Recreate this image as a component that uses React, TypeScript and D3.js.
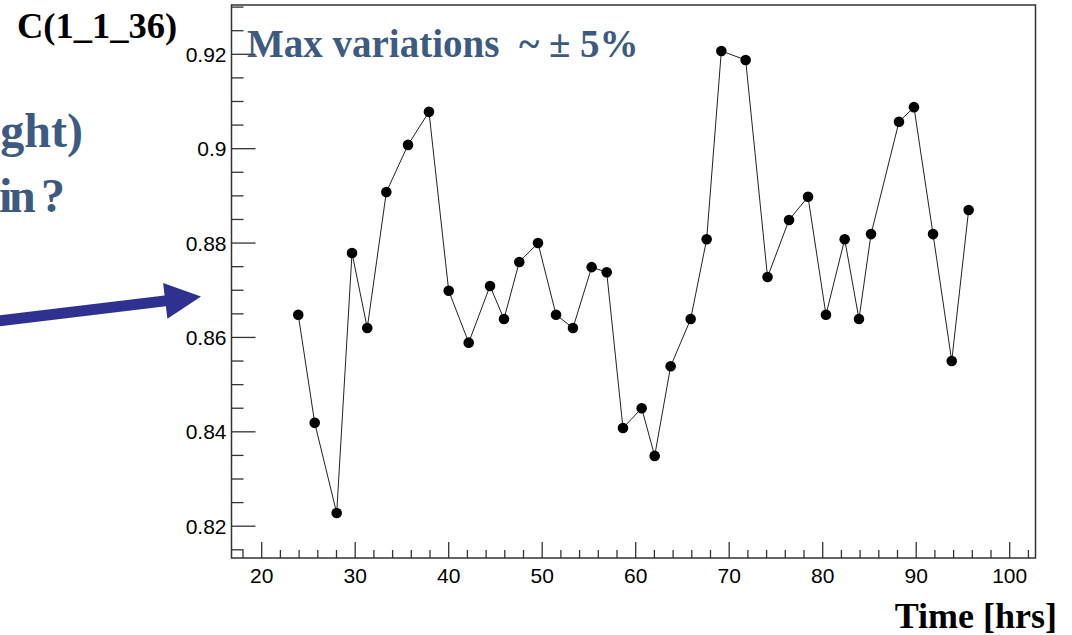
import React from "react";
import * as d3 from "d3";

const timeHrs = [23.91, 25.67, 28.02, 29.66, 31.29, 33.33, 35.65, 37.89, 40.0, 42.14, 44.42, 45.91, 47.55, 49.55, 51.48, 53.29, 55.29, 56.9, 58.64, 60.64, 62.03, 63.74, 65.88, 67.59, 69.16, 71.76, 74.1, 76.4, 78.43, 80.35, 82.35, 83.88, 85.17, 88.16, 89.76, 91.8, 93.8, 95.61];
const gainValues = [0.8648, 0.8419, 0.8228, 0.8779, 0.862, 0.8908, 0.9008, 0.9078, 0.8699, 0.8589, 0.8709, 0.8639, 0.876, 0.88, 0.8648, 0.862, 0.8749, 0.8738, 0.8408, 0.845, 0.8349, 0.8539, 0.8639, 0.8808, 0.9207, 0.9188, 0.8728, 0.8849, 0.8898, 0.8648, 0.8808, 0.8639, 0.8819, 0.9057, 0.9088, 0.8819, 0.855, 0.887];
const xMajorTicks = [20, 30, 40, 50, 60, 70, 80, 90, 100];
const yMajorTicks = [0.82, 0.84, 0.86, 0.88, 0.9, 0.92];
const yTickLabels = ["0.82", "0.84", "0.86", "0.88", "0.9", "0.92"];
const titleText = "C(1_1_36)";
const noteText = "Max variations  ~ \u00B1 5%";
const xAxisTitle = "Time [hrs]";
const sideLine1 = "ght)";
const sideLine2 = "in ?";

const W = 1072;
const H = 635;
const frame = { left: 231.5, top: 5, right: 1035.5, bottom: 558 };

export default function App() {
  const x = d3.scaleLinear().domain([20, 100]).range([261.7, 1009.7]);
  const y = d3.scaleLinear().domain([0.82, 0.92]).range([526.2, 54.3]);

  const xMinor = d3.range(18, 103, 2).filter((v) => x(v) > frame.left && x(v) < frame.right && !xMajorTicks.includes(v));
  const yMinor = d3.range(0, 24).map((i) => +(0.815 + i * 0.005).toFixed(3)).filter((v) => y(v) < frame.bottom && y(v) > frame.top && !yMajorTicks.some((m) => Math.abs(m - v) < 1e-6));

  const pts = timeHrs.map((t, i) => [t, gainValues[i]] as [number, number]);
  const line = d3.line<[number, number]>().x((d) => x(d[0])).y((d) => y(d[1]));

  // arrow geometry
  const a0: [number, number] = [-6, 321.5];
  const tip: [number, number] = [201, 296.5];
  const dx = tip[0] - a0[0];
  const dy = tip[1] - a0[1];
  const len = Math.hypot(dx, dy);
  const ux = dx / len, uy = dy / len;
  const nx = -uy, ny = ux;
  const headLen = 36, headHalf = 18, shaftHalf = 5.5;
  const bx = tip[0] - ux * headLen, by = tip[1] - uy * headLen;
  const arrowPath = [
    [a0[0] + nx * shaftHalf, a0[1] + ny * shaftHalf],
    [bx + nx * shaftHalf, by + ny * shaftHalf],
    [bx + nx * headHalf, by + ny * headHalf],
    tip,
    [bx - nx * headHalf, by - ny * headHalf],
    [bx - nx * shaftHalf, by - ny * shaftHalf],
    [a0[0] - nx * shaftHalf, a0[1] - ny * shaftHalf],
  ];
  const arrowD = "M" + arrowPath.map((p) => p[0].toFixed(1) + "," + p[1].toFixed(1)).join("L") + "Z";

  const axisColor = "#333";
  const serif = "'Liberation Serif', 'Times New Roman', serif";
  const sans = "'Liberation Sans', Arial, Helvetica, sans-serif";
  const blue = "#3d5b80";

  return (
    <svg width={W} height={H} viewBox={`0 0 ${W} ${H}`} style={{ position: "absolute", left: 0, top: 0, display: "block", background: "#fff" }}>
      {/* frame */}
      <rect x={frame.left} y={frame.top} width={frame.right - frame.left} height={frame.bottom - frame.top} fill="none" stroke={axisColor} strokeWidth={1.5} />
      {/* y ticks */}
      {yMajorTicks.map((v, i) => (
        <g key={"ym" + v}>
          <line x1={frame.left} x2={frame.left + 24} y1={y(v)} y2={y(v)} stroke={axisColor} strokeWidth={1.3} />
          <text x={frame.left - 5} y={y(v) + 7.5} textAnchor="end" fontFamily={sans} fontSize={21} fill="#000">{yTickLabels[i]}</text>
        </g>
      ))}
      {yMinor.map((v) => (
        <line key={"yn" + v} x1={frame.left} x2={frame.left + 12} y1={y(v)} y2={y(v)} stroke={axisColor} strokeWidth={1.3} />
      ))}
      {/* x ticks */}
      {xMajorTicks.map((v) => (
        <g key={"xm" + v}>
          <line x1={x(v)} x2={x(v)} y1={frame.bottom} y2={frame.bottom - 16} stroke={axisColor} strokeWidth={1.3} />
          <text x={x(v)} y={frame.bottom + 25} textAnchor="middle" fontFamily={sans} fontSize={21} fill="#000">{v}</text>
        </g>
      ))}
      {xMinor.map((v) => (
        <line key={"xn" + v} x1={x(v)} x2={x(v)} y1={frame.bottom} y2={frame.bottom - 8} stroke={axisColor} strokeWidth={1.3} />
      ))}
      {/* data */}
      <path d={line(pts) || ""} fill="none" stroke="#222" strokeWidth={1} />
      {pts.map((p, i) => (
        <circle key={"p" + i} cx={x(p[0])} cy={y(p[1])} r={5.3} fill="#000" />
      ))}
      {/* texts */}
      <text x={17} y={38} fontFamily={serif} fontWeight="bold" fontSize={36.5} fill="#000">{titleText}</text>
      <text x={247} y={57} fontFamily={serif} fontWeight="bold" fontSize={39} fill={blue} style={{ whiteSpace: "pre" }}>{noteText}</text>
      <text x={1057} y={628} textAnchor="end" fontFamily={serif} fontWeight="bold" fontSize={36} fill="#000">{xAxisTitle}</text>
      <text x={83} y={147} textAnchor="end" fontFamily={serif} fontWeight="bold" fontSize={48} fill={blue}>{sideLine1}</text>
      <text x={-1} y={212} fontFamily={serif} fontWeight="bold" fontSize={48} fill={blue} textLength={66} lengthAdjust="spacing" style={{ whiteSpace: "pre" }}>{sideLine2}</text>
      {/* arrow */}
      <path d={arrowD} fill="#2e318f" />
    </svg>
  );
}
